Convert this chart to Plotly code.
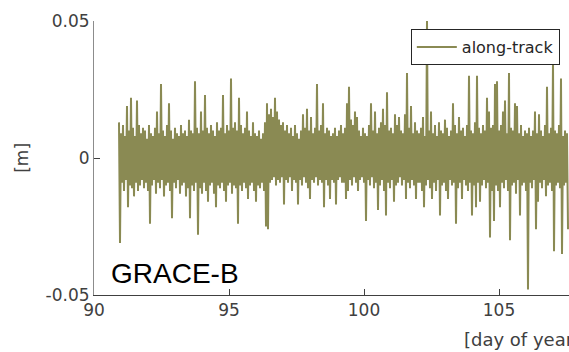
import plotly.graph_objects as go

# ---- data (along-track residuals) ----
# upper excursions [mm], one every 2 samples
upper_mm = [
    13, 9, 12, 8, 19, 10, 22, 11, 8, 21, 12, 9, 11, 10, 7, 12, 9, 8, 11, 17,
    9, 27, 10, 8, 12, 20, 10, 7, 11, 9, 8, 12, 9, 10, 8, 14,
    10, 9, 28, 11, 9, 17, 10, 23, 11, 9, 12, 10, 8, 13, 10, 11, 23, 9, 12, 10,
    29, 11, 13, 10, 22, 12, 9, 11, 17, 10, 8, 13, 9, 8, 10, 7, 9, 13,
    20, 16, 18, 15, 22, 17, 14, 12, 13, 10, 12, 9, 11, 8, 12, 9, 7, 10, 16, 11,
    18, 10, 15, 9, 11, 27, 10, 12, 20, 9, 11, 10, 8, 9, 11, 8, 10, 12,
    9, 11, 20, 26, 14, 12, 17, 15, 10, 8, 11, 9, 8, 12, 20, 10, 17, 9, 11, 13,
    18, 12, 24, 10, 11, 9, 16, 12, 15, 10, 9, 16, 31, 11, 19, 9, 13, 10,
    9, 11, 15, 8, 50, 10, 17, 9, 12, 8, 13, 10, 9, 14, 11, 8, 10, 20, 12, 9,
    15, 10, 11, 8, 12, 30, 10, 9, 13, 30, 11, 9, 12, 10, 22, 17, 11, 12,
    27, 28, 10, 12, 17, 21, 9, 31, 11, 10, 20, 19, 9, 12, 8, 10, 9, 11, 8, 10,
    17, 9, 16, 10, 8, 12, 26, 9, 11, 35, 10, 9, 12, 29, 8, 10, 9,
]
# lower excursions [mm], interleaved with the upper ones
lower_mm = [
    -31, -9, -12, -8, -18, -10, -11, -14, -9, -12, -10, -8, -11, -9, -12, -24,
    -10, -8, -13, -9, -11, -8, -14, -10, -9, -12, -22, -9, -11, -8, -13, -10,
    -9, -14, -11, -22,
    -10, -12, -9, -28, -11, -13, -9, -12, -16, -10, -9, -13, -18, -10, -11, -9,
    -12, -16, -10, -9, -13, -10, -11, -24, -10, -12, -9, -11, -15, -10, -9, -12,
    -16, -10, -11, -9, -12, -25,
    -26, -9, -8, -7, -10, -8, -9, -7, -17, -8, -9, -7, -12, -8, -9, -17, -8,
    -10, -7, -9, -11, -15, -8, -9, -7, -10, -8, -9, -18, -8, -10, -15, -8, -9,
    -17, -8, -7, -9,
    -9, -15, -12, -8, -10, -7, -9, -12, -8, -7, -9, -23, -8, -10, -7, -11, -9,
    -19, -10, -8, -12, -21, -9, -11, -8, -16, -10, -9, -7, -10, -8, -15, -9,
    -11, -8, -10, -15, -9,
    -9, -12, -18, -10, -8, -11, -15, -9, -12, -8, -21, -10, -9, -12, -15, -8,
    -10, -9, -24, -11, -9, -15, -8, -10, -12, -9, -21, -10, -18, -9, -16, -10,
    -8, -11, -9, -29, -12, -23,
    -10, -12, -18, -9, -11, -8, -12, -30, -10, -9, -13, -8, -21, -10, -9, -12,
    -48, -9, -11, -8, -26, -16, -9, -11, -8, -14, -10, -9, -12, -34, -10, -9,
    -11, -35, -10, -9, -26,
]
t_start = 90.926       # day of year of first sample
t_step = 1.0 / 27.0    # sampling step [day]

series_name = "along-track"
x_ticks = [90, 95, 100, 105]
y_ticks = [-0.05, 0, 0.05]
y_tick_text = ["-0.05", "0", "0.05"]

# ---- build series ----
values = []
for u, l in zip(upper_mm, lower_mm):
    values.append(u / 1000.0)
    values.append(l / 1000.0)
times = [t_start + i * t_step for i in range(len(values))]

OLIVE = "#8A8A53"
TXT = "#404040"
FONT = "DejaVu Sans"

fig = go.Figure()
fig.add_trace(go.Scatter(
    x=times, y=values, mode="lines", name=series_name,
    line=dict(color=OLIVE, width=2),
))

fig.update_layout(
    width=569, height=352,
    margin=dict(l=94, r=0, t=21, b=57),
    paper_bgcolor="white", plot_bgcolor="white",
    font=dict(family=FONT, size=17, color=TXT),
    showlegend=True,
    legend=dict(
        x=0.667, xanchor="left", y=0.905, yanchor="middle",
        bgcolor="white", bordercolor="#262626", borderwidth=1,
        font=dict(family=FONT, size=16, color="#262626"),
        itemwidth=40, tracegroupgap=0,
    ),
    xaxis=dict(
        range=[90, 90 + 475 / 27], tickvals=x_ticks,
        ticks="inside", ticklen=6, tickcolor=TXT,
        showline=True, linecolor=TXT, linewidth=1,
        showgrid=False, zeroline=False,
        tickfont=dict(family=FONT, size=17, color=TXT),
    ),
    yaxis=dict(
        range=[-0.05, 0.05], tickvals=y_ticks, ticktext=y_tick_text,
        ticks="inside", ticklen=6, tickcolor=TXT,
        showline=True, linecolor="#8c8c8c", linewidth=1,
        showgrid=False, zeroline=False,
        tickfont=dict(family=FONT, size=17, color=TXT),
    ),
    annotations=[
        dict(text="[day of year]", xref="paper", yref="paper",
             x=0.7747, y=-0.164, xanchor="left", yanchor="middle",
             showarrow=False, font=dict(family=FONT, size=18, color=TXT)),
        dict(text="[m]", xref="paper", yref="paper",
             x=-0.152, y=0.5, xanchor="center", yanchor="middle",
             textangle=-90, showarrow=False,
             font=dict(family=FONT, size=17, color=TXT)),
        dict(text="GRACE-B", xref="paper", yref="paper",
             x=0.031, y=0.080, xanchor="left", yanchor="middle",
             showarrow=False,
             font=dict(family="Liberation Sans", size=28, color="black")),
    ],
)

fig.write_html("out.html")
